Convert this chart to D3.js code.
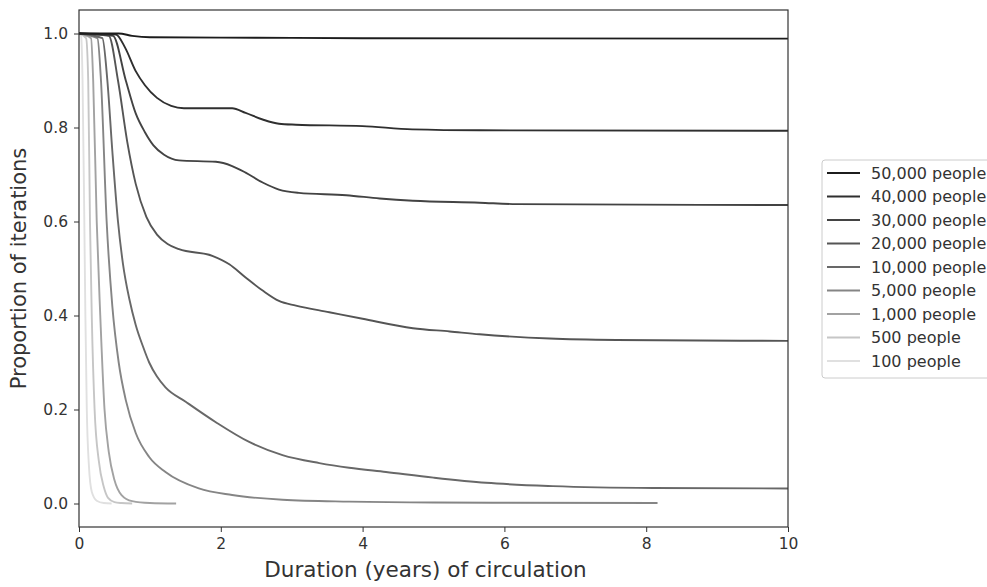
<!DOCTYPE html>
<meta charset="utf-8">
<style>
    body { margin: 0; background: #fff; }
    text { font-family: "DejaVu Sans", sans-serif; fill: #333; }
    .axis path, .axis line { stroke: #333; }
</style>
<body>
<svg id="chart" width="987" height="587"></svg>
</body>
<script src="https://d3js.org/d3.v7.min.js"></script>
<script>

    // series: [years, proportion]
    var p100 = [[0,1],[0.03,0.995],[0.05,0.9],[0.075,0.6],[0.09,0.4],[0.11,0.2],[0.14,0.08],[0.18,0.025],[0.25,0.006],[0.35,0.001],[0.46,0]];
    var p500 = [[0,1],[0.1,0.99],[0.13,0.9],[0.155,0.6],[0.18,0.4],[0.22,0.2],[0.28,0.09],[0.35,0.035],[0.41,0.012],[0.5,0.003],[0.6,0.001],[0.75,0]];
    var p1k = [[0,1],[0.17,0.99],[0.2,0.9],[0.25,0.6],[0.3,0.4],[0.36,0.2],[0.42,0.11],[0.5,0.05],[0.6,0.018],[0.75,0.005],[1.0,0.001],[1.37,0]];
    var p5k = [[0,1],[0.26,0.99],[0.31,0.9],[0.39,0.6],[0.47,0.42],[0.56,0.3],[0.66,0.22],[0.8,0.15],[0.99,0.099],[1.22,0.067],[1.69,0.032],[2.16,0.018],[2.87,0.008],[3.81,0.004],[5,0.002],[8.16,0.001]];
    var p10k = [[0,1],[0.33,0.99],[0.4,0.9],[0.47,0.75],[0.55,0.6],[0.62,0.51],[0.71,0.435],[0.8,0.38],[0.9,0.335],[0.99,0.3],[1.1,0.27],[1.22,0.247],[1.51,0.216],[1.93,0.173],[2.4,0.131],[2.87,0.103],[3.39,0.086],[3.81,0.076],[4.33,0.067],[5.0,0.055],[5.74,0.044],[6.68,0.037],[8.1,0.033],[10,0.032]];
    var p20k = [[0,1],[0.42,0.995],[0.55,0.9],[0.68,0.77],[0.8,0.68],[0.95,0.61],[1.1,0.572],[1.25,0.552],[1.41,0.541],[1.88,0.527],[2.12,0.509],[2.35,0.481],[2.59,0.453],[2.82,0.431],[3.06,0.421],[3.53,0.407],[4.0,0.393],[4.71,0.373],[5.23,0.366],[5.65,0.36],[6.64,0.351],[7.58,0.348],[10,0.346]];
    var p30k = [[0,1],[0.48,0.995],[0.66,0.9],[0.8,0.83],[0.93,0.79],[1.05,0.762],[1.2,0.742],[1.41,0.73],[1.93,0.727],[2.16,0.718],[2.35,0.704],[2.59,0.683],[2.82,0.668],[3.1,0.661],[3.77,0.656],[4.24,0.649],[4.71,0.644],[5.65,0.64],[6.17,0.637],[10,0.635]];
    var p40k = [[0,1],[0.52,0.998],[0.65,0.97],[0.8,0.92],[0.93,0.89],[1.1,0.863],[1.3,0.846],[1.48,0.841],[2.16,0.841],[2.35,0.831],[2.59,0.817],[2.82,0.808],[3.06,0.806],[4.0,0.803],[4.7,0.796],[5.65,0.794],[10,0.793]];
    var p50k = [[0,1],[0.56,1.0],[0.75,0.995],[1.0,0.992],[2.5,0.991],[4,0.99],[10,0.989]];

    var labels = ["50,000 people", "40,000 people", "30,000 people", "20,000 people", "10,000 people",
                  "5,000 people", "1,000 people", "500 people", "100 people"];
    var seriesData = [p50k, p40k, p30k, p20k, p10k, p5k, p1k, p500, p100];
    var greys = ["#1c1c1c", "#2f2f2f", "#434343", "#555555", "#686868", "#858585", "#a2a2a2", "#c6c6c6", "#e0e0e0"];

    var xTicks = [0, 2, 4, 6, 8, 10];
    var yTicks = [0, 0.2, 0.4, 0.6, 0.8, 1.0];

    var svg = d3.select("#chart");
    var margin = {left: 79, right: 199, top: 10, bottom: 60};
    var width = 987 - margin.left - margin.right;
    var height = 587 - margin.top - margin.bottom;

    var x = d3.scaleLinear().domain([0, 10]).range([0, width]);
    var y = d3.scaleLinear().domain([-0.05, 1.05]).range([height, 0]);

    var g = svg.append("g").attr("transform", "translate(" + margin.left + "," + margin.top + ")");

    g.append("clipPath").attr("id", "clip")
        .append("rect").attr("width", width).attr("height", height);

    var line = d3.line()
        .x(function (d) { return x(d[0]); })
        .y(function (d) { return y(d[1]); })
        .curve(d3.curveMonotoneX);

    // draw light ones first so darker sit on top
    var order = d3.range(seriesData.length).reverse();
    g.append("g").attr("clip-path", "url(#clip)")
        .selectAll("path")
        .data(order)
        .enter().append("path")
        .attr("d", function (i) { return line(seriesData[i]); })
        .attr("fill", "none")
        .attr("stroke", function (i) { return greys[i]; })
        .attr("stroke-width", 1.9);

    g.append("g").attr("class", "axis")
        .attr("transform", "translate(0," + height + ")")
        .call(d3.axisBottom(x).tickValues(xTicks).tickFormat(d3.format("d")).tickSize(5).tickPadding(6));
    g.append("g").attr("class", "axis")
        .call(d3.axisLeft(y).tickValues(yTicks).tickFormat(d3.format(".1f")).tickSize(5).tickPadding(6));
    g.selectAll(".axis .domain").remove();
    g.selectAll(".axis text").style("font-size", "15.5px").attr("fill", "#333");

    // frame
    g.append("rect").attr("width", width).attr("height", height)
        .attr("fill", "none").attr("stroke", "#333").attr("stroke-width", 1.2);

    g.append("text")
        .attr("x", width / 2 - 8).attr("y", height + 50)
        .attr("text-anchor", "middle")
        .style("font-size", "21.5px")
        .text("Duration (years) of circulation");

    g.append("text")
        .attr("transform", "translate(-53," + (height / 2) + ") rotate(-90)")
        .attr("text-anchor", "middle")
        .style("font-size", "21px")
        .text("Proportion of iterations");

    // legend
    var legend = svg.append("g").attr("transform", "translate(822,160)");
    legend.append("rect")
        .attr("width", 180).attr("height", 218).attr("rx", 3)
        .attr("fill", "#fff").attr("stroke", "#ccc");
    var item = legend.selectAll(".item")
        .data(labels)
        .enter().append("g")
        .attr("transform", function (d, i) { return "translate(0," + (13 + i * 23.5) + ")"; });
    item.append("line")
        .attr("x1", 5).attr("x2", 38)
        .attr("stroke", function (d, i) { return greys[i]; })
        .attr("stroke-width", 2.2);
    item.append("text")
        .attr("x", 49).attr("dy", "0.35em")
        .style("font-size", "16px")
        .text(function (d) { return d; });

</script>
